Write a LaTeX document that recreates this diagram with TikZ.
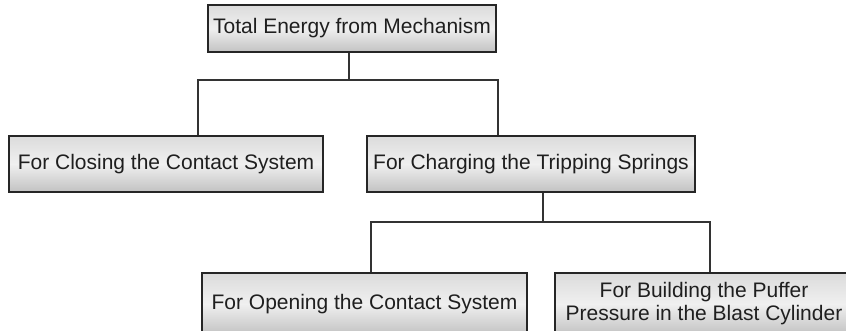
\documentclass[tikz,border=0pt]{standalone}
\usepackage{fontspec}
\setmainfont{Liberation Sans}
\begin{document}
\begin{tikzpicture}[x=1pt,y=-1pt,
  box/.style={draw=black!85, line width=1.3pt, rectangle, inner sep=0pt,
    top color=black!14, bottom color=black!24, middle color=white!94!black,
    text=black!88, align=center, font=\fontsize{21}{24}\selectfont},
  conn/.style={draw=black!80, line width=1.4pt}]
\useasboundingbox[clip] (0,0) rectangle (846,330);
\node[box, minimum width=288pt, minimum height=47pt] (top) at (352,28.5) {Total Energy from Mechanism};
\node[box, minimum width=314pt, minimum height=56pt] (close) at (166,164) {For Closing the Contact System};
\node[box, minimum width=328pt, minimum height=56pt] (charge) at (531,164) {For Charging the Tripping Springs};
\node[box, minimum width=325pt, minimum height=62pt] (open) at (364.5,304) {\raisebox{4pt}{For Opening the Contact System}};
\node[box, minimum width=298pt, minimum height=62pt] (puff) at (704,304) {\raisebox{5pt}{\begin{tabular}{@{}c@{}}For Building the Puffer\\[-1pt]Pressure in the Blast Cylinder\end{tabular}}};
\coordinate (j1) at (349,80);
\coordinate (c1) at (198,80);
\coordinate (c2) at (498,80);
\coordinate (j2) at (543,222);
\coordinate (o1) at (371,222);
\coordinate (o2) at (710,222);
\draw[conn] (top.south -| j1) -- (j1);
\draw[conn] (c1 |- close.north) -- (c1) -- (c2) -- (c2 |- charge.north);
\draw[conn] (charge.south -| j2) -- (j2);
\draw[conn] (o1 |- open.north) -- (o1) -- (o2) -- (o2 |- puff.north);
\end{tikzpicture}
\end{document}
